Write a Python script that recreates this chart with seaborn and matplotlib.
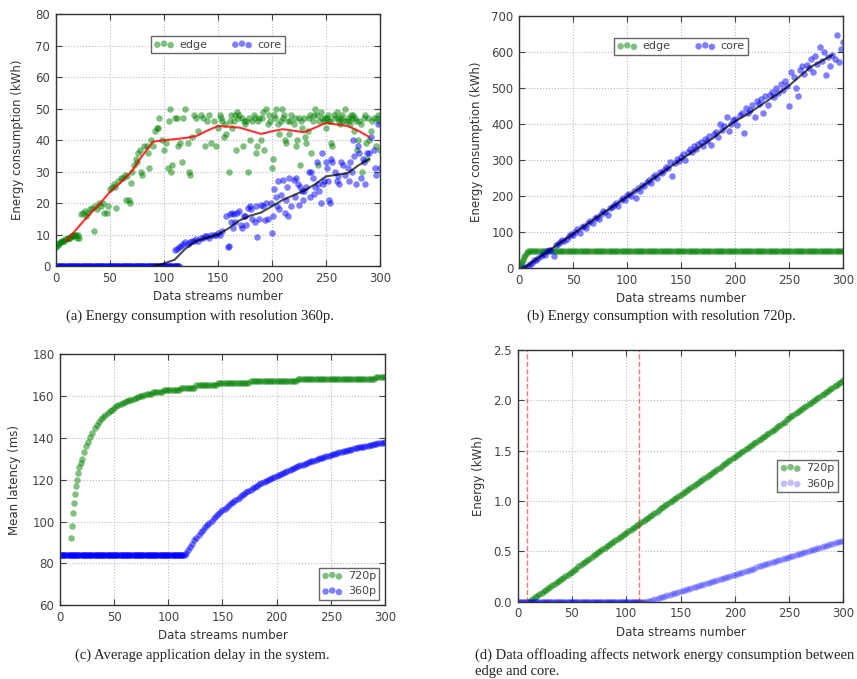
import matplotlib
matplotlib.use("Agg")
import matplotlib.pyplot as plt
import seaborn as sns

# ---------------- (a) energy, 360p ----------------
edge_a_x = [0, 1, 2, 3, 4, 5, 6, 7, 8, 9,
            10, 11, 12, 13, 14, 15, 16, 17, 18, 19,
            20, 21, 22, 23, 25, 27, 28, 30, 32, 34,
            35, 36, 38, 40, 42, 44, 45, 47, 48, 50,
            52, 54, 55, 56, 58, 60, 62, 64, 65, 66,
            68, 69, 70, 71, 72, 74, 75, 76, 78, 79,
            80, 82, 84, 85, 86, 88, 90, 92, 94, 95,
            96, 98, 100, 102, 104, 105, 106, 107, 108, 110,
            112, 113, 115, 117, 118, 120, 122, 123, 124, 126,
            128, 130, 132, 134, 136, 138, 140, 142, 144, 146,
            148, 150, 152, 154, 156, 158, 160, 162, 163, 165,
            167, 168, 170, 172, 173, 175, 176, 178, 180, 182,
            184, 185, 186, 188, 190, 192, 193, 195, 196, 198,
            200, 201, 202, 204, 206, 207, 209, 210, 212, 213,
            215, 216, 218, 220, 222, 223, 225, 226, 228, 230,
            231, 232, 233, 235, 236, 238, 240, 242, 243, 245,
            246, 248, 250, 251, 252, 254, 255, 256, 258, 260,
            262, 263, 265, 266, 268, 270, 271, 272, 274, 275,
            276, 278, 279, 280, 282, 283, 285, 287, 288, 290,
            292, 294, 296, 298, 300,
            153, 157, 161, 166, 169, 174, 179, 183, 187, 191,
            197, 203, 208, 211, 217, 221, 227, 234, 239, 244,
            249, 253, 257, 261, 264, 269, 273, 277, 281, 286,
            289, 293, 297, 299]
edge_a_y = [6, 6.5, 7, 7, 7.5, 7.5, 8, 8, 8, 8.5,
            8.5, 9, 9, 9, 9.5, 9.5, 10, 9.5, 10, 10,
            9, 10, 9, 16.5, 17, 17.5, 16, 17, 18, 18.5,
            11, 19, 18, 20, 19, 20, 17, 17, 19, 24.5,
            25, 26, 25, 18.5, 27, 28, 28, 29, 21, 28.5,
            21, 20, 26.5, 30, 32, 34, 33, 36, 37, 30,
            29, 38, 38, 36, 31, 40, 38, 43, 44, 44,
            47, 40, 37, 39, 31, 46, 50, 30, 32, 47,
            47, 38, 39, 33, 47, 50, 39, 30, 29, 41,
            48, 47, 43, 48, 47, 38, 46, 48, 39, 46,
            38, 44, 48, 46, 41, 42, 30, 48, 44, 46,
            37, 49, 48, 47, 38, 45, 46, 30, 40, 46,
            47, 36, 38, 47, 40, 49, 37, 50, 45, 46,
            31, 34, 48, 50, 45, 42, 50, 47, 40, 39,
            46, 42, 48, 45, 38, 40, 47, 32, 44, 47,
            41, 39, 43, 48, 36, 46, 50, 48, 32, 49,
            47, 46, 44, 47, 48, 46, 39, 38, 47, 49,
            46, 45, 48, 46, 50, 47, 46, 45, 47, 48,
            43, 46, 37, 40, 45, 30, 47, 39, 34, 40,
            43, 47, 38, 48, 37,
            47, 45, 46, 48, 47, 46, 47, 48, 46, 47,
            48, 47, 46, 48, 46, 47, 46, 47, 48, 46,
            47, 46, 48, 47, 47, 46, 48, 47, 46, 48,
            47, 46, 47, 46]

core_a_idle_x = list(range(0, 115))
core_a_idle_y = [0] * 115
core_a_x = [110, 112, 114, 116, 118, 120, 122, 124, 126, 128,
            130, 132, 134, 136, 138, 140, 142, 144, 146, 148,
            150, 152, 154, 159, 160, 158, 161, 162, 163, 164,
            165, 166, 168, 170, 171, 172, 174, 175, 176, 178,
            186, 181, 182, 184, 185, 180, 188, 190, 192, 194,
            195, 196, 200, 199, 201, 202, 204, 205, 206, 207,
            208, 210, 212, 213, 214, 215, 216, 218, 220, 221,
            222, 224, 225, 226, 228, 229, 230, 232, 234, 235,
            236, 238, 239, 240, 242, 243, 244, 245, 246, 247,
            248, 250, 251, 252, 253, 254, 255, 256, 258, 260,
            261, 262, 264, 266, 268, 270, 271, 272, 274, 275,
            276, 278, 280, 281, 282, 284, 285, 286, 288, 290,
            292, 294, 295, 296, 298, 300]
core_a_y = [5, 5.5, 6, 6.5, 7, 7.5, 7, 7.5, 8, 8,
            8.5, 8, 9, 9, 9.5, 9.5, 9, 10, 10, 10,
            10.5, 10, 11, 6, 6.5, 16, 16.5, 14, 17, 12,
            16.5, 14, 17, 17.5, 13, 12, 16, 16, 13, 18.5,
            9.3, 18, 15, 14, 19, 19, 15, 19.5, 19, 14.5,
            20, 15, 10.5, 20, 16, 24.5, 22, 19, 27, 18,
            22.5, 27.5, 17, 21, 25, 16, 28, 19, 27.5, 22,
            28, 26, 19.5, 25, 24, 21, 24, 25, 30, 22,
            30, 28, 23, 25, 33, 26, 24, 20, 36, 26,
            27, 33, 31, 27, 21, 20, 34, 33, 30, 27,
            28.5, 26, 33, 32, 29, 31, 27, 33, 30, 40,
            35, 26, 38, 36, 28, 34, 33, 26, 36, 36,
            41, 37, 31, 29, 45, 31]

edge_a_avg_x = list(range(10, 291, 10))
edge_a_avg_y = [8, 12, 16, 19.5, 23.5, 26.5, 30, 35, 39.5, 40,
                40.3, 40.7, 41.3, 43, 44.5, 44.3, 44, 43, 42, 42.8,
                43.5, 43, 42.5, 44, 45.5, 45, 44.5, 43, 41]
core_a_avg_x = list(range(90, 291, 10))
core_a_avg_y = [0, 0.8, 2, 5.5, 8, 9, 10, 12, 14.5, 16,
                17, 19, 21, 22.5, 24, 26, 28.5, 29, 29.5, 32, 34]

# ---------------- (b) energy, 720p ----------------
edge_b_x = [0, 1, 2, 3, 4, 5, 6, 7, 8] + list(range(10, 301, 2))
edge_b_y = [0, 6, 12, 18, 24, 30, 36, 42, 48] + [48] * 146

core_b_x = list(range(4, 301, 2))
core_b_y = [0, 4, 6, 12, 15, 22, 24, 28, 33, 40,
            38, 48, 50, 52, 35, 64, 68, 72, 78, 76,
            82, 90, 94, 92, 102, 108, 98, 114, 118, 112,
            126, 130, 125, 140, 142, 136, 150, 160, 155, 148,
            168, 170, 176, 182, 172, 190, 196, 190, 202, 206,
            200, 214, 195, 222, 215, 232, 228, 240, 244, 236,
            252, 258, 250, 268, 264, 272, 282, 278, 296, 256,
            292, 302, 298, 310, 318, 300, 322, 330, 322, 338,
            332, 345, 350, 338, 360, 352, 368, 342, 372, 378,
            365, 400, 384, 395, 420, 380, 400, 412, 415, 398,
            425, 432, 375, 445, 430, 440, 452, 420, 465, 455,
            470, 430, 478, 453, 480, 490, 475, 500, 485, 510,
            495, 520, 505, 450, 545, 530, 500, 478, 550, 560,
            540, 565, 555, 580, 545, 590, 568, 615, 575, 600,
            536, 585, 560, 592, 580, 647, 573, 607, 629]

core_b_avg_x = [4] + list(range(10, 291, 10))
core_b_avg_y = [0, 12, 33, 54, 75, 95, 116, 137, 157, 178,
                199, 219, 240, 261, 281, 302, 322, 342, 362, 387,
                408, 425, 445, 465, 485, 507, 533, 559, 575, 592]

# ---------------- (c) mean latency ----------------
lat720_x = list(range(10, 21)) + list(range(22, 301, 2))
lat720_y = [92, 98, 104, 109, 113, 117, 120, 123, 126, 128, 130,
            133, 136, 138, 140.5, 142.5, 144.5, 146, 147.5, 149, 150,
            151, 152, 153, 153.5, 154, 155, 155.5, 156, 156.5, 157,
            157.5, 158, 158, 158.5, 159, 159.5, 160, 160, 160.5, 161,
            161, 161, 162, 162, 162, 162, 162, 163, 163, 163,
            163, 163, 163, 163, 163, 164, 164, 164, 164, 164,
            164, 164, 165, 165, 165, 165, 165, 165, 165, 165,
            165, 165, 166, 166, 166, 166, 166, 166, 166, 166,
            166, 166, 166, 166, 166, 166, 166, 167, 167, 167,
            167, 167, 167, 167, 167, 167, 167, 167, 167, 167,
            167, 167, 167, 167, 167, 167, 167, 167, 167, 168,
            168, 168, 168, 168, 168, 168, 168, 168, 168, 168,
            168, 168, 168, 168, 168, 168, 168, 168, 168, 168,
            168, 168, 168, 168, 168, 168, 168, 168, 168, 168,
            168, 168, 168, 168, 168, 169, 169, 169, 169, 169]

lat360_x = list(range(0, 116)) + list(range(116, 301, 2))
lat360_y = [84] * 116 + [
    85, 86.5, 88, 89.5, 91, 92.2, 93.5, 94.8, 96, 97.2,
    98.3, 99.4, 100.5, 101.5, 102.5, 103.5, 104.5, 105.3, 106.2, 107,
    107.9, 108.7, 109.5, 110.3, 111, 111.8, 112.5, 113.2, 113.9, 114.6,
    115.2, 115.9, 116.5, 117.1, 117.7, 118.3, 118.8, 119.4, 119.9, 120.4,
    120.9, 121.4, 121.8, 122.3, 122.8, 123.3, 123.8, 124.2, 124.7, 125.1,
    125.6, 126, 126.4, 126.8, 127.2, 127.6, 128, 128.4, 128.8, 129.1,
    129.5, 129.8, 130.2, 130.5, 130.8, 131.2, 131.5, 131.8, 132.1, 132.4,
    132.7, 133, 133.3, 133.6, 133.8, 134.1, 134.4, 134.6, 134.9, 135.1,
    135.4, 135.6, 135.8, 136.1, 136.3, 136.5, 136.7, 136.9, 137.1, 137.3,
    137.5, 137.7, 137.9]

# ---------------- (d) offloading energy ----------------
net720_x = list(range(10, 301, 2))
net720_y = [0.00, 0.02, 0.03, 0.05, 0.06, 0.08, 0.09, 0.11, 0.12, 0.14,
            0.15, 0.17, 0.18, 0.20, 0.21, 0.23, 0.24, 0.26, 0.27, 0.29,
            0.30, 0.32, 0.33, 0.35, 0.36, 0.38, 0.39, 0.41, 0.42, 0.44,
            0.46, 0.47, 0.49, 0.50, 0.52, 0.53, 0.55, 0.56, 0.58, 0.59,
            0.61, 0.62, 0.64, 0.65, 0.67, 0.68, 0.70, 0.71, 0.73, 0.74,
            0.76, 0.77, 0.79, 0.80, 0.82, 0.83, 0.85, 0.86, 0.88, 0.89,
            0.91, 0.93, 0.94, 0.96, 0.97, 0.99, 1.00, 1.02, 1.03, 1.05,
            1.06, 1.08, 1.09, 1.11, 1.12, 1.14, 1.15, 1.17, 1.18, 1.20,
            1.21, 1.23, 1.24, 1.26, 1.27, 1.29, 1.30, 1.32, 1.33, 1.35,
            1.37, 1.38, 1.40, 1.41, 1.43, 1.44, 1.46, 1.47, 1.49, 1.50,
            1.52, 1.53, 1.55, 1.56, 1.58, 1.59, 1.61, 1.62, 1.64, 1.65,
            1.67, 1.68, 1.70, 1.71, 1.73, 1.75, 1.76, 1.78, 1.79, 1.81,
            1.82, 1.84, 1.85, 1.87, 1.88, 1.90, 1.91, 1.93, 1.94, 1.96,
            1.97, 1.99, 2.00, 2.02, 2.03, 2.05, 2.06, 2.08, 2.09, 2.11,
            2.12, 2.14, 2.15, 2.17, 2.18, 2.20]

net360_x = list(range(0, 116)) + list(range(116, 301, 2))
net360_y = [0] * 116 + [
    0.00, 0.00, 0.01, 0.01, 0.02, 0.03, 0.03, 0.04, 0.05, 0.05,
    0.06, 0.07, 0.07, 0.08, 0.09, 0.09, 0.10, 0.11, 0.11, 0.12,
    0.13, 0.13, 0.14, 0.15, 0.15, 0.16, 0.17, 0.17, 0.18, 0.19,
    0.19, 0.20, 0.21, 0.21, 0.22, 0.23, 0.23, 0.24, 0.25, 0.25,
    0.26, 0.27, 0.27, 0.28, 0.29, 0.29, 0.30, 0.31, 0.31, 0.32,
    0.33, 0.33, 0.34, 0.35, 0.35, 0.36, 0.37, 0.37, 0.38, 0.39,
    0.39, 0.40, 0.41, 0.41, 0.42, 0.43, 0.43, 0.44, 0.45, 0.45,
    0.46, 0.47, 0.47, 0.48, 0.49, 0.49, 0.50, 0.51, 0.51, 0.52,
    0.53, 0.53, 0.54, 0.55, 0.55, 0.56, 0.57, 0.57, 0.58, 0.59,
    0.59, 0.60, 0.60]
offload_marks = [9, 112]

captions = ["(a) Energy consumption with resolution 360p.",
            "(b) Energy consumption with resolution 720p.",
            "(c) Average application delay in the system.",
            "(d) Data offloading affects network energy consumption between",
            "edge and core."]

sns.set_theme(style="ticks")
plt.rcParams["font.family"] = ["DejaVu Sans"]

GREY = "#444444"
GREEN = "#008000"
BLUE = "#0000ff"
S = 22


def style_axes(ax, ylabel, ylim, yticks, ypad):
    ax.set_xlim(0, 300)
    ax.set_xticks(range(0, 301, 50))
    ax.set_ylim(*ylim)
    ax.set_yticks(yticks)
    ax.grid(True, linestyle=":", linewidth=0.8, color="#bbbbbb")
    ax.set_axisbelow(True)
    ax.tick_params(direction="in", top=True, right=True, length=4, width=0.8,
                   labelsize=8.5, colors=GREY, pad=4)
    ax.set_xlabel("Data streams number", fontsize=8.5, color="#333333", labelpad=4)
    ax.set_ylabel(ylabel, fontsize=8.5, color="#333333", labelpad=ypad)
    for sp in ax.spines.values():
        sp.set_color("#333333")
        sp.set_linewidth(1.0)


def add_legend(ax, **kw):
    leg = ax.legend(scatterpoints=3, fontsize=8, fancybox=False, framealpha=1,
                    edgecolor="#666666", borderpad=0.3, handletextpad=0.5,
                    handlelength=1.8, **kw)
    leg.get_frame().set_linewidth(1.0)
    for t in leg.get_texts():
        t.set_color(GREY)


fig = plt.figure(figsize=(8.57, 6.79), dpi=100)
ax_a = fig.add_axes([0.065, 0.6082, 0.3784, 0.3707])
ax_b = fig.add_axes([0.6056, 0.6049, 0.3784, 0.3716])
ax_c = fig.add_axes([0.0700, 0.1085, 0.3792, 0.3701])
ax_d = fig.add_axes([0.6041, 0.1138, 0.3799, 0.3707])

# (a)
sns.scatterplot(x=edge_a_x, y=edge_a_y, ax=ax_a, color=GREEN, alpha=0.5, s=S,
                linewidth=0, label="edge")
sns.scatterplot(x=core_a_idle_x + core_a_x, y=core_a_idle_y + core_a_y, ax=ax_a,
                color=BLUE, alpha=0.5, s=S, linewidth=0, label="core")
sns.lineplot(x=edge_a_avg_x, y=edge_a_avg_y, ax=ax_a, color="red", alpha=0.8,
             linewidth=1.5)
sns.lineplot(x=core_a_avg_x, y=core_a_avg_y, ax=ax_a, color="black", alpha=0.7,
             linewidth=1.5)
style_axes(ax_a, "Energy consumption (kWh)", (0, 80), range(0, 81, 10), 8)
add_legend(ax_a, loc="upper center", bbox_to_anchor=(0.5, 0.935), ncol=2,
           columnspacing=2.2)

# (b)
sns.scatterplot(x=edge_b_x, y=edge_b_y, ax=ax_b, color=GREEN, alpha=0.5, s=S,
                linewidth=0, label="edge")
sns.scatterplot(x=core_b_x, y=core_b_y, ax=ax_b, color=BLUE, alpha=0.5, s=S,
                linewidth=0, label="core")
sns.lineplot(x=core_b_avg_x, y=core_b_avg_y, ax=ax_b, color="black", alpha=0.7,
             linewidth=1.5)
style_axes(ax_b, "Energy consumption (kWh)", (0, 700), range(0, 701, 100), 6)
add_legend(ax_b, loc="upper center", bbox_to_anchor=(0.5, 0.935), ncol=2,
           columnspacing=2.2)

# (c)
sns.scatterplot(x=lat720_x, y=lat720_y, ax=ax_c, color=GREEN, alpha=0.5, s=S,
                linewidth=0, label="720p")
sns.scatterplot(x=lat360_x, y=lat360_y, ax=ax_c, color=BLUE, alpha=0.5, s=S,
                linewidth=0, label="360p")
style_axes(ax_c, "Mean latency (ms)", (60, 180), range(60, 181, 20), 8)
add_legend(ax_c, loc="lower right")

# (d)
for xm in offload_marks:
    ax_d.axvline(xm, color="red", linestyle="--", linewidth=1.0, alpha=0.55)
sns.scatterplot(x=net720_x, y=net720_y, ax=ax_d, color=GREEN, alpha=0.5, s=S,
                linewidth=0, label="720p")
sns.scatterplot(x=net360_x, y=net360_y, ax=ax_d, color=BLUE, alpha=0.25, s=S,
                linewidth=0, label="360p")
style_axes(ax_d, "Energy (kWh)", (0, 2.5), [0, 0.5, 1.0, 1.5, 2.0, 2.5], 6)
ax_d.set_yticklabels(["0.0", "0.5", "1.0", "1.5", "2.0", "2.5"])
add_legend(ax_d, loc="center right")

cap_kw = dict(fontsize=10.5, family=["Liberation Serif", "DejaVu Serif"],
              color="#222222", va="center")
fig.text(0.2328, 1 - 316 / 679, captions[0], ha="center", **cap_kw)
fig.text(0.7713, 1 - 316 / 679, captions[1], ha="center", **cap_kw)
fig.text(0.2363, 1 - 655 / 679, captions[2], ha="center", **cap_kw)
fig.text(475 / 857, 1 - 655 / 679, captions[3], ha="left", **cap_kw)
fig.text(475 / 857, 1 - 671 / 679, captions[4], ha="left", **cap_kw)

fig.savefig("out.png", dpi=100)
